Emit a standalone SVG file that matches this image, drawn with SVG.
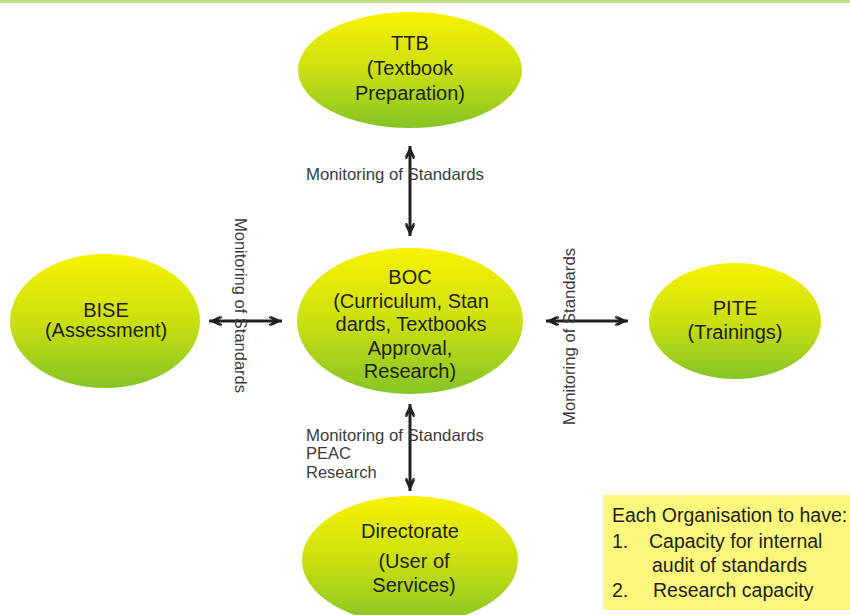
<svg xmlns="http://www.w3.org/2000/svg" width="850" height="615" viewBox="0 0 850 615">
<style>
.node{font-family:"Liberation Sans",Arial,sans-serif;font-size:20px;fill:#231f20;text-anchor:middle}
.lbl{font-family:"Liberation Sans",Arial,sans-serif;font-size:16.5px;fill:#3b3b3b}
.note{font-family:"Liberation Sans",Arial,sans-serif;font-size:19.5px;fill:#231f20}
.conn{stroke:#231f20;stroke-width:3;fill:none;marker-start:url(#dbl);marker-end:url(#dbl)}
.ell{fill:url(#grad)}
</style>
<defs>
<linearGradient id="grad" x1="0" y1="0" x2="0" y2="1">
<stop offset="0" stop-color="#f8f200"/>
<stop offset="0.5" stop-color="#cbe010"/>
<stop offset="1" stop-color="#86c426"/>
</linearGradient>
<marker id="dbl" viewBox="0 0 14 14" markerWidth="14" markerHeight="14" refX="13" refY="7" orient="auto-start-reverse" markerUnits="userSpaceOnUse">
<path d="M13,7 L1,1.5 L5,7 L1,12.5 Z" fill="#231f20"/>
<path d="M8,7 L0,3 M8,7 L0,11" stroke="#231f20" stroke-width="1.8" fill="none"/>
</marker>
</defs>
<rect x="0" y="0" width="850" height="3" fill="#c3df8a"/>

<g id="connectors">
<line class="conn" x1="410" y1="146" x2="410" y2="236"/>
<line class="conn" x1="209" y1="321" x2="282" y2="321"/>
<line class="conn" x1="546" y1="321" x2="628" y2="321"/>
<line class="conn" x1="410" y1="404" x2="410" y2="491"/>
<text class="lbl" x="306" y="180" textLength="178" lengthAdjust="spacingAndGlyphs">Monitoring of Standards</text>
<text class="lbl" transform="translate(235,218) rotate(90)" textLength="175" lengthAdjust="spacingAndGlyphs">Monitoring of Standards</text>
<text class="lbl" transform="translate(575,425) rotate(-90)" textLength="177" lengthAdjust="spacingAndGlyphs">Monitoring of Standards</text>
<text class="lbl" x="306" y="441" textLength="178" lengthAdjust="spacingAndGlyphs">Monitoring of Standards</text>
<text class="lbl" x="306" y="459">PEAC</text>
<text class="lbl" x="306" y="478">Research</text>
</g>

<g id="ttb">
<ellipse class="ell" cx="410" cy="70" rx="112" ry="58"/>
<text class="node" x="410" y="50">TTB</text>
<text class="node" x="410" y="75">(Textbook</text>
<text class="node" x="410" y="100">Preparation)</text>
</g>

<g id="boc">
<ellipse class="ell" cx="410" cy="321" rx="113" ry="73"/>
<text class="node" x="410" y="284">BOC</text>
<text class="node" x="411" y="307.5">(Curriculum, Stan</text>
<text class="node" x="411" y="331">dards, Textbooks</text>
<text class="node" x="410" y="354.5">Approval,</text>
<text class="node" x="410" y="378">Research)</text>
</g>

<g id="bise">
<ellipse class="ell" cx="105" cy="321" rx="95" ry="67"/>
<text class="node" x="106" y="317">BISE</text>
<text class="node" x="106" y="337">(Assessment)</text>
</g>

<g id="pite">
<ellipse class="ell" cx="735" cy="321" rx="86" ry="58"/>
<text class="node" x="735" y="315">PITE</text>
<text class="node" x="735" y="339">(Trainings)</text>
</g>

<g id="directorate">
<ellipse class="ell" cx="410" cy="560" rx="108" ry="64"/>
<text class="node" x="410" y="538">Directorate</text>
<text class="node" x="414" y="568">(User of</text>
<text class="node" x="414" y="592">Services)</text>
</g>

<g id="note">
<rect x="603" y="495" width="247" height="115" fill="#fbf67c"/>
<text class="note" x="612" y="522">Each Organisation to have:</text>
<text class="note" x="612" y="548">1.</text>
<text class="note" x="649" y="548">Capacity for internal</text>
<text class="note" x="652" y="572">audit of standards</text>
<text class="note" x="612" y="597">2.</text>
<text class="note" x="653" y="597">Research capacity</text>
</g>
</svg>
